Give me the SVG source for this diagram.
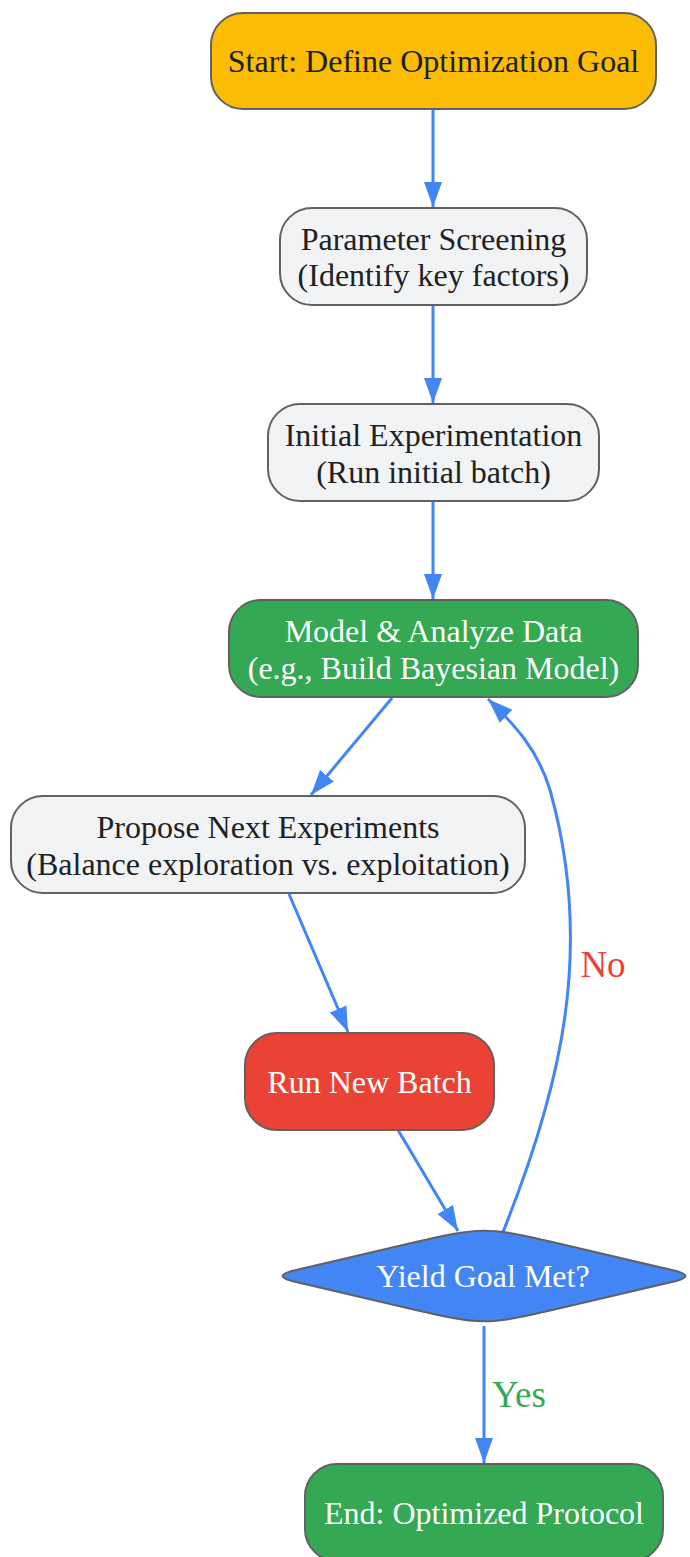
<svg xmlns="http://www.w3.org/2000/svg" width="690" height="1557" viewBox="0 0 690 1557">
<style>
.n{stroke:#616161;stroke-width:2}
.t{font-family:"Liberation Serif","Times New Roman",serif;font-size:32px;text-anchor:middle}
.l{font-family:"Liberation Serif","Times New Roman",serif;font-size:37px;text-anchor:middle}
.d{fill:#202124}
.w{fill:#ffffff}
.e{fill:none;stroke:#4285F4;stroke-width:3}
</style>
<defs>
<marker id="a" markerWidth="26" markerHeight="20" refX="25" refY="10" orient="auto" markerUnits="userSpaceOnUse">
<path d="M0,1 L25,10 L0,19 Z" fill="#4285F4"/>
</marker>
</defs>
<rect width="690" height="1557" fill="#ffffff"/>
<g id="connectors">
<path class="e" d="M433,109 L433,207" marker-end="url(#a)"/>
<path class="e" d="M433,305 L433,403" marker-end="url(#a)"/>
<path class="e" d="M433,501 L433,599" marker-end="url(#a)"/>
<path class="e" d="M392,698 L311,795" marker-end="url(#a)"/>
<path class="e" d="M289,894 L348,1032" marker-end="url(#a)"/>
<path class="e" d="M398,1130 L458,1231" marker-end="url(#a)"/>
<path class="e" d="M503,1232 C560,1090 595,950 550,790 C538,750 515,725 488,699" marker-end="url(#a)"/>
<path class="e" d="M484,1326 L484,1463" marker-end="url(#a)"/>
<text x="603" y="977" class="l" fill="#EA4335">No</text>
<text x="519" y="1407" class="l" fill="#34A853">Yes</text>
</g>
<g id="start">
<rect class="n" x="211" y="13" width="445" height="96" rx="32" fill="#FBBC05"/>
<text class="t d" x="433.5" y="72">Start: Define Optimization Goal</text>
</g>
<g id="screening">
<rect class="n" x="280" y="208" width="307" height="97" rx="32" fill="#F1F3F4"/>
<text class="t d" x="433.5" y="250">Parameter Screening</text>
<text class="t d" x="433.5" y="286">(Identify key factors)</text>
</g>
<g id="initial">
<rect class="n" x="268" y="404" width="331" height="97" rx="32" fill="#F1F3F4"/>
<text class="t d" x="433.5" y="446">Initial Experimentation</text>
<text class="t d" x="433.5" y="483">(Run initial batch)</text>
</g>
<g id="model">
<rect class="n" x="229" y="600" width="409" height="97" rx="32" fill="#34A853"/>
<text class="t w" x="433.5" y="642">Model &amp; Analyze Data</text>
<text class="t w" x="433.5" y="679">(e.g., Build Bayesian Model)</text>
</g>
<g id="propose">
<rect class="n" x="11" y="796" width="514" height="97" rx="32" fill="#F1F3F4"/>
<text class="t d" x="268" y="838">Propose Next Experiments</text>
<text class="t d" x="268" y="875">(Balance exploration vs. exploitation)</text>
</g>
<g id="runbatch">
<rect class="n" x="245" y="1033" width="249" height="97" rx="32" fill="#EA4335"/>
<text class="t w" x="369.5" y="1093">Run New Batch</text>
</g>
<g id="decision">
<path class="n" fill="#4285F4" d="M404,1244.7 C484,1226 484,1226 564,1244.7 L673,1270.2 Q698,1276 673,1281.8 L564,1307.3 C484,1326 484,1326 404,1307.3 L295,1281.8 Q270,1276 295,1270.2 Z"/>
<text class="t w" x="483" y="1287">Yield Goal Met?</text>
</g>
<g id="end">
<rect class="n" x="305" y="1464" width="358" height="97" rx="32" fill="#34A853"/>
<text class="t w" x="484" y="1524">End: Optimized Protocol</text>
</g>
</svg>
